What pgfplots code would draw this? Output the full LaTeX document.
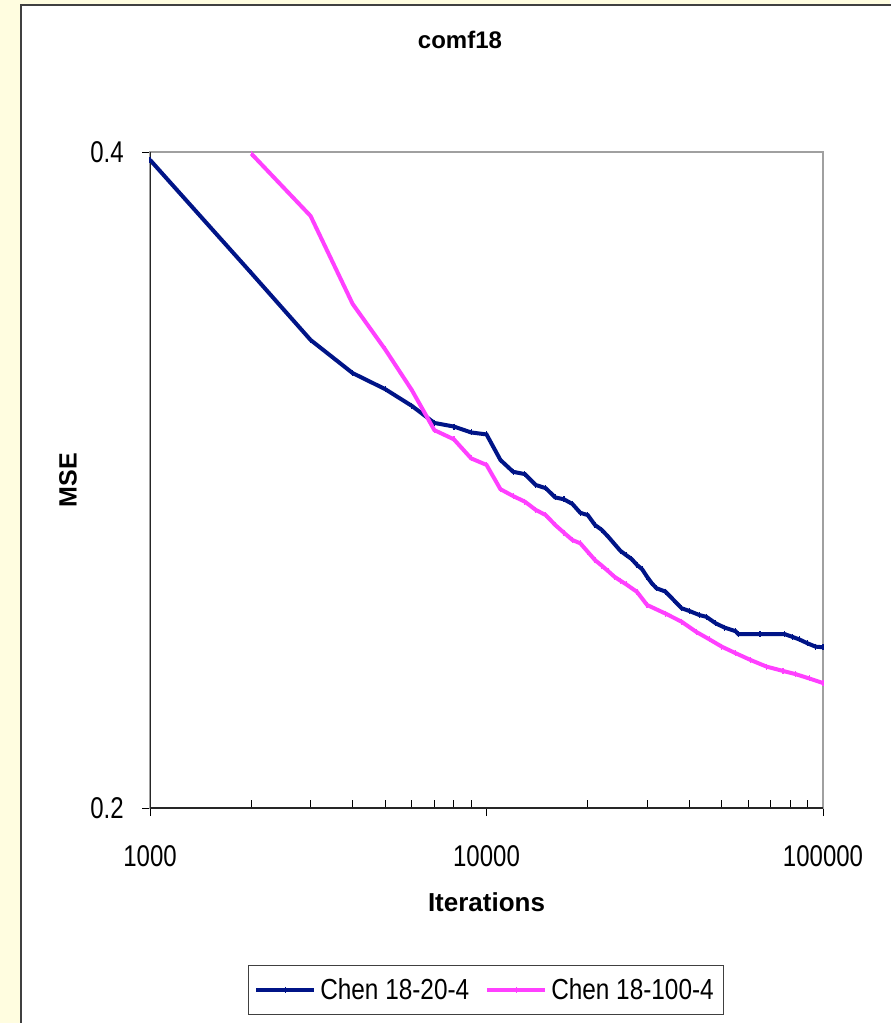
\documentclass[border=0pt]{standalone}
\usepackage{pgfplots}
\pgfplotsset{compat=1.18}
\usepackage{fontspec}
\setmainfont{Liberation Sans}
\newfontfamily\tickfont{Liberation Sans}[FakeStretch=0.8]
\newfontfamily\legfont{Liberation Sans}[FakeStretch=0.84]
\definecolor{bgyellow}{RGB}{255,253,224}
\definecolor{seriesblue}{RGB}{0,20,135}
\definecolor{seriespink}{RGB}{255,64,255}
\definecolor{framegray}{RGB}{64,64,64}
\definecolor{boxgray}{RGB}{160,160,160}

\begin{document}
\begin{tikzpicture}
\useasboundingbox (0,0) rectangle (445pt,-511.5pt);
\fill[bgyellow] (0,0) rectangle (445pt,-511.5pt);
\filldraw[fill=white, draw=framegray, line width=1pt] (10.5pt,-2.5pt) rectangle (470pt,-530pt);
\begin{axis}[
    at={(75pt,-404pt)}, anchor=south west,
    scale only axis,
    width=336.5pt, height=328pt,
    xmode=log,
    xmin=1000, xmax=100000,
    ymin=0.2, ymax=0.4,
    xtick={1000,10000,100000},
    xticklabels={1000,10000,100000},
    ytick={0.2,0.4},
    yticklabels={0.2,0.4},
    extra x ticks={2000,3000,4000,5000,6000,7000,8000,9000,20000,30000,40000,50000,60000,70000,80000,90000},
    extra x tick labels={},
    extra x tick style={tick align=inside, major tick length=4pt},
    tick pos=left,
    tick align=outside,
    major tick length=4pt,
    minor tick length=0pt,
    tick style={black, line width=0.5pt},
    axis line style={draw=boxgray, line width=1pt},
    xticklabel style={font=\tickfont\fontsize{15}{17}\selectfont, anchor=base, yshift=-25pt},
    yticklabel style={font=\tickfont\fontsize{15}{17}\selectfont, anchor=east, inner sep=0pt, xshift=-9pt},
    title={comf18},
    title style={at={(axis description cs:0.4606,1.1524)}, anchor=center, font=\bfseries\fontsize{12}{14}\selectfont},
    xlabel={Iterations},
    xlabel style={at={(axis description cs:0.5,-0.1433)}, anchor=center, font=\bfseries\fontsize{13}{15}\selectfont},
    ylabel={MSE},
    ylabel style={at={(axis description cs:-0.1218,0.5)}, anchor=center, font=\bfseries\fontsize{12.5}{15}\selectfont},
    legend style={at={(axis description cs:0.4993,-0.2774)}, anchor=center,
        draw=framegray, line width=0.5pt,
        font=\legfont\fontsize{14.5}{17}\selectfont,
        inner xsep=3pt, inner ysep=4pt,
        /tikz/every even column/.append style={column sep=6pt}},
    legend columns=2,
    legend image code/.code={\draw[mark repeat=2,mark phase=2,#1] plot coordinates {(0pt,0pt)(14.5pt,0pt)(29pt,0pt)};},
]
\addplot[seriesblue, line width=2pt, mark=|, mark size=1.5pt, mark options={line width=0.6pt}] coordinates {
(1000,0.3976) (2000,0.3631) (3000,0.3427) (4000,0.3326) (5000,0.3277)
(6000,0.3226) (7000,0.3174) (8000,0.3163) (9000,0.3145) (10000,0.3139)
(11000,0.3061) (12000,0.3025) (13000,0.3018) (14000,0.2985) (15000,0.2975)
(16000,0.2947) (17000,0.2941) (18000,0.2927) (19000,0.2900) (20000,0.2893)
(21000,0.2863) (22000,0.2848) (23000,0.2827) (24000,0.2805) (25000,0.2784)
(26000,0.2771) (27000,0.2759) (28000,0.2741) (29000,0.2728) (30000,0.2705)
(31000,0.2685) (32000,0.2670) (34000,0.2660) (36000,0.2634) (38000,0.2609)
(40000,0.2601) (43000,0.2588) (45000,0.2583) (48000,0.2563) (51000,0.2550)
(55000,0.2539) (56000,0.2530) (65000,0.2530) (77000,0.2530) (81000,0.2522)
(85000,0.2514) (90000,0.2502) (95000,0.2492) (100000,0.2490)
};
\addlegendentry{Chen 18-20-4}
\addplot[seriespink, line width=2pt, mark=|, mark size=1.5pt, mark options={line width=0.6pt}] coordinates {
(2000,0.3995) (3000,0.3805) (4000,0.3537) (5000,0.3398) (6000,0.3274)
(7000,0.3152) (8000,0.3124) (9000,0.3066) (10000,0.3046) (11000,0.2972)
(12000,0.2951) (13000,0.2934) (14000,0.2909) (15000,0.2893) (16000,0.2863)
(17000,0.2839) (18000,0.2817) (19000,0.2807) (20000,0.2781) (21000,0.2756)
(22000,0.2739) (23000,0.2722) (24000,0.2705) (25000,0.2693) (26000,0.2682)
(28000,0.2659) (30000,0.2619) (34000,0.2593) (38000,0.2568) (42000,0.2537)
(46000,0.2514) (50000,0.2492) (55000,0.2472) (61000,0.2451) (68000,0.2431)
(76000,0.2418) (83000,0.2408) (91000,0.2395) (100000,0.2381)
};
\addlegendentry{Chen 18-100-4}
\draw[black!85, line width=1pt] (rel axis cs:0,1) -- (rel axis cs:0,0) -- (rel axis cs:1,0);
\end{axis}
\end{tikzpicture}
\end{document}
